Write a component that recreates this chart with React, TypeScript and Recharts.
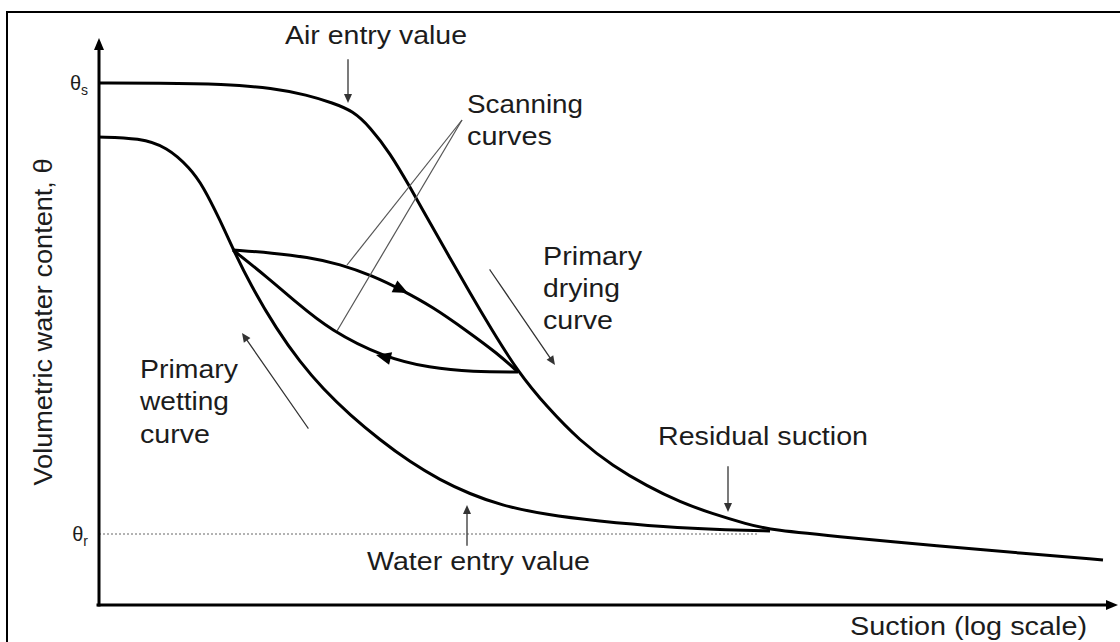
import { Line, LineChart, ReferenceDot, ReferenceLine, XAxis, YAxis } from "recharts"

// suction in plot units (arbitrary, log scale), theta = volumetric water content
const dryingSuction = [0, 6.2, 12.5, 17.5, 20.9, 23.5, 25.5, 27.2, 29.2, 31.2, 33.2, 35.2, 37.2, 39.2, 42.0, 44.9, 48.2, 51.5, 54.9, 58.2, 61.5, 64.9, 67.2, 75.5, 83.9, 92.2, 100.5]
const dryingTheta = [0.522, 0.522, 0.521, 0.517, 0.51, 0.502, 0.494, 0.478, 0.452, 0.418, 0.382, 0.347, 0.312, 0.278, 0.233, 0.198, 0.164, 0.139, 0.119, 0.103, 0.091, 0.081, 0.075, 0.067, 0.059, 0.052, 0.045]

const wettingSuction = [0, 4.2, 6.9, 9.2, 10.5, 12.2, 13.5, 15.2, 17.9, 20.2, 22.5, 25.2, 28.2, 31.2, 34.2, 37.2, 40.2, 44.9, 49.9, 56.5, 63.2, 67.2]
const wettingTheta = [0.468, 0.467, 0.458, 0.437, 0.419, 0.385, 0.356, 0.321, 0.275, 0.243, 0.216, 0.19, 0.165, 0.143, 0.125, 0.111, 0.1, 0.09, 0.084, 0.078, 0.075, 0.074]

const scanDrySuction = [13.5, 17.5, 20.9, 24.2, 27.5, 30.2, 33.5, 36.9, 39.9, 42.0]
const scanDryTheta = [0.355, 0.352, 0.348, 0.341, 0.329, 0.316, 0.298, 0.274, 0.252, 0.233]

const scanWetSuction = [13.5, 16.9, 19.9, 23.2, 28.5, 33.2, 37.5, 42.0]
const scanWetTheta = [0.355, 0.328, 0.302, 0.275, 0.248, 0.237, 0.233, 0.233]

const thetaS = 0.522
const thetaR = 0.071
const thetaTicks = [thetaR, thetaS]
const thetaTickNames: Record<string, string> = { [thetaS]: "s", [thetaR]: "r" }

type Pt = [number, number]

const pointerArrows: { from: Pt; to: Pt }[] = [
  { from: [25.0, 0.545], to: [25.0, 0.502] }, // air entry
  { from: [39.2, 0.335], to: [45.7, 0.24] }, // drying
  { from: [21.0, 0.177], to: [14.4, 0.272] }, // wetting
  { from: [63.0, 0.138], to: [63.0, 0.093] }, // residual
  { from: [36.9, 0.06], to: [36.9, 0.1] }, // water entry
]

const leaderLines: { from: Pt; to: Pt }[] = [
  { from: [36.4, 0.485], to: [24.9, 0.34] },
  { from: [36.4, 0.485], to: [23.9, 0.274] },
]

const curveArrows: { from: Pt; to: Pt }[] = [
  { from: [27.5, 0.329], to: [31.0, 0.312] },
  { from: [33.2, 0.237], to: [27.8, 0.25] },
]

const annotations: { text: string; x: number; y: number; w: number }[] = [
  { text: "Air entry value", x: 18.7, y: 0.561, w: 182 },
  { text: "Scanning", x: 36.9, y: 0.492, w: 116 },
  { text: "curves", x: 36.9, y: 0.46, w: 85 },
  { text: "Primary", x: 44.5, y: 0.34, w: 99 },
  { text: "drying", x: 44.5, y: 0.308, w: 77 },
  { text: "curve", x: 44.5, y: 0.276, w: 70 },
  { text: "Primary", x: 4.2, y: 0.227, w: 98 },
  { text: "wetting", x: 4.2, y: 0.195, w: 89 },
  { text: "curve", x: 4.2, y: 0.162, w: 70 },
  { text: "Residual suction", x: 56.0, y: 0.16, w: 210 },
  { text: "Water entry value", x: 26.9, y: 0.035, w: 223 },
  { text: "Suction (log scale)", x: 75.2, y: -0.03, w: 237 },
]

const toRows = (xs: number[], ys: number[]) => xs.map((x, i) => ({ x, y: ys[i] }))

const font = "'Liberation Sans', Arial, sans-serif"
const ink = "#1c1c1c"

function arrowShape(color: string, width: number, head: number, half: number, showLine = true) {
  return (p: any) => {
    const x1 = Number(p.x1)
    const y1 = Number(p.y1)
    const x2 = Number(p.x2)
    const y2 = Number(p.y2)
    const a = Math.atan2(y2 - y1, x2 - x1)
    const bx = x2 - head * Math.cos(a)
    const by = y2 - head * Math.sin(a)
    const nx = -Math.sin(a) * half
    const ny = Math.cos(a) * half
    return (
      <g>
        {showLine && (
          <line x1={x1} y1={y1} x2={bx} y2={by} stroke={color} strokeWidth={width} strokeLinecap="square" />
        )}
        <polygon points={`${x2},${y2} ${bx + nx},${by + ny} ${bx - nx},${by - ny}`} fill={color} />
      </g>
    )
  }
}

function plainLine(color: string, width: number) {
  return (p: any) => <line x1={p.x1} y1={p.y1} x2={p.x2} y2={p.y2} stroke={color} strokeWidth={width} />
}

function textShape(text: string, w: number) {
  return (p: any) => (
    <text
      x={p.cx}
      y={p.cy}
      fontFamily={font}
      fontSize={25}
      fill={ink}
      textLength={w}
      lengthAdjust="spacingAndGlyphs"
    >
      {text}
    </text>
  )
}

function ThetaTick(props: any) {
  const { x, y, payload } = props
  return (
    <text x={x} y={y + 7} textAnchor="end" fontFamily={font} fontSize={20} fill={ink}>
      θ
      <tspan fontSize={14} dy={5}>
        {thetaTickNames[payload.value]}
      </tspan>
    </text>
  )
}

export default function App() {
  return (
    <div
      style={{
        position: "absolute",
        left: 0,
        top: 0,
        width: 1120,
        height: 642,
        background: "#fff",
        overflow: "hidden",
      }}
    >
      <div
        style={{
          position: "absolute",
          left: 6,
          top: 11,
          width: 1200,
          height: 700,
          borderTop: "2px solid #000",
          borderLeft: "2px solid #000",
        }}
      />
      <div style={{ position: "absolute", left: 0, top: 0 }}>
        <LineChart width={1120} height={642} margin={{ top: 38, right: 2, bottom: 37, left: 38 }}>
          <XAxis type="number" dataKey="x" domain={[0, 102]} allowDataOverflow hide />
          <YAxis
            type="number"
            domain={[0, 0.567]}
            allowDataOverflow
            width={60}
            ticks={thetaTicks}
            interval={0}
            axisLine={false}
            tickLine={false}
            tickMargin={4}
            tick={<ThetaTick />}
          />

          <ReferenceLine
            segment={[{ x: 0.1, y: thetaR }, { x: 66, y: thetaR }]}
            ifOverflow="visible"
            shape={(p: any) => (
              <line x1={p.x1} y1={p.y1} x2={p.x2} y2={p.y2} stroke="#666" strokeWidth={1} strokeDasharray="2 2" />
            )}
          />

          <Line data={toRows(dryingSuction, dryingTheta)} dataKey="y" type="basis" stroke="#000" strokeWidth={3} dot={false} activeDot={false} isAnimationActive={false} />
          <Line data={toRows(wettingSuction, wettingTheta)} dataKey="y" type="basis" stroke="#000" strokeWidth={3} dot={false} activeDot={false} isAnimationActive={false} />
          <Line data={toRows(scanDrySuction, scanDryTheta)} dataKey="y" type="basis" stroke="#000" strokeWidth={3} dot={false} activeDot={false} isAnimationActive={false} />
          <Line data={toRows(scanWetSuction, scanWetTheta)} dataKey="y" type="basis" stroke="#000" strokeWidth={3} dot={false} activeDot={false} isAnimationActive={false} />

          {/* axes with arrows */}
          <ReferenceLine
            segment={[{ x: 0.1, y: 0 }, { x: 0.1, y: 0.567 }]}
            ifOverflow="visible"
            shape={arrowShape("#000", 3, 12, 5)}
          />
          <ReferenceLine
            segment={[{ x: 0, y: 0 }, { x: 102, y: 0 }]}
            ifOverflow="visible"
            shape={arrowShape("#000", 3, 12, 5)}
          />

          {curveArrows.map((a, i) => (
            <ReferenceLine
              key={`ca${i}`}
              segment={[{ x: a.from[0], y: a.from[1] }, { x: a.to[0], y: a.to[1] }]}
              ifOverflow="visible"
              shape={arrowShape("#000", 3, 15, 6.5, false)}
            />
          ))}

          {pointerArrows.map((a, i) => (
            <ReferenceLine
              key={`pa${i}`}
              segment={[{ x: a.from[0], y: a.from[1] }, { x: a.to[0], y: a.to[1] }]}
              ifOverflow="visible"
              shape={arrowShape("#333", 1.3, 9, 4)}
            />
          ))}

          {leaderLines.map((a, i) => (
            <ReferenceLine
              key={`ll${i}`}
              segment={[{ x: a.from[0], y: a.from[1] }, { x: a.to[0], y: a.to[1] }]}
              ifOverflow="visible"
              shape={plainLine("#555", 1.2)}
            />
          ))}

          {annotations.map((a, i) => (
            <ReferenceDot key={`an${i}`} x={a.x} y={a.y} r={0} ifOverflow="visible" shape={textShape(a.text, a.w)} />
          ))}

          <ReferenceDot
            x={-4.6}
            y={0.283}
            r={0}
            ifOverflow="visible"
            shape={(p: any) => (
              <text
                transform={`translate(${p.cx}, ${p.cy}) rotate(-90)`}
                textAnchor="middle"
                fontFamily={font}
                fontSize={26}
                fill={ink}
                textLength={327}
                lengthAdjust="spacingAndGlyphs"
              >
                Volumetric water content, θ
              </text>
            )}
          />
        </LineChart>
      </div>
    </div>
  )
}
